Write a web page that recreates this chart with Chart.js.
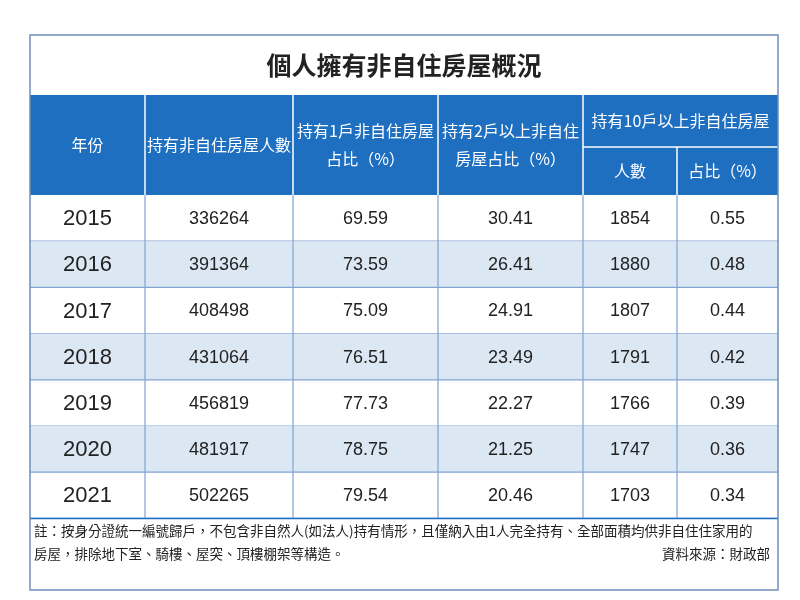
<!DOCTYPE html>
<html>
<head>
<meta charset="utf-8">
<title>個人擁有非自住房屋概況</title>
<script src="https://cdn.jsdelivr.net/npm/chart.js"></script>
<style>
  body { margin: 0; background: #fff; }
  #chart { display: block; }
</style>
</head>
<body>
<canvas id="chart" width="800" height="600"></canvas>
<script>
// data
const title = '個人擁有非自住房屋概況';
const years = ['2015', '2016', '2017', '2018', '2019', '2020', '2021'];
const owners = ['336264', '391364', '408498', '431064', '456819', '481917', '502265'];
const oneShare = ['69.59', '73.59', '75.09', '76.51', '77.73', '78.75', '79.54'];
const twoPlusShare = ['30.41', '26.41', '24.91', '23.49', '22.27', '21.25', '20.46'];
const tenPlusCount = ['1854', '1880', '1807', '1791', '1766', '1747', '1703'];
const tenPlusShare = ['0.55', '0.48', '0.44', '0.42', '0.39', '0.36', '0.34'];
const headers = ['年份', '持有非自住房屋人數', '持有1戶非自住房屋\n占比（%）', '持有2戶以上非自住\n房屋占比（%）'];
const groupHeader = '持有10戶以上非自住房屋';
const subHeaders = ['人數', '占比（%）'];
const note1 = '註：按身分證統一編號歸戶，不包含非自然人(如法人)持有情形，且僅納入由1人完全持有、全部面積均供非自住住家用的';
const note2 = '房屋，排除地下室、騎樓、屋突、頂樓棚架等構造。';
const source = '資料來源：財政部';

// layout (in scale units = px)
const colEdges = [30, 145, 293, 438, 583, 677, 778];
const frameTop = 35, headTop = 95, subTop = 147, bodyTop = 195, rowH = 46.2, frameBottom = 590;

const BLUE = '#1f6fc1', LIGHT = '#dce7f4', LINE = '#7fa3cf';
const CJK = '"Noto Sans CJK TC", sans-serif';
const NUM = '"Liberation Sans Narrow", "Liberation Sans", sans-serif';

const tablePlugin = {
  id: 'table',
  afterDraw(chart) {
    const c = chart.ctx, xs = chart.scales.x, ys = chart.scales.y;
    const X = v => xs.getPixelForValue(v), Y = v => ys.getPixelForValue(v);
    const rect = (x0, y0, x1, y1, fill) => { c.fillStyle = fill; c.fillRect(X(x0), Y(y0), X(x1) - X(x0), Y(y1) - Y(y0)); };
    const line = (x0, y0, x1, y1, col, w) => { c.strokeStyle = col; c.lineWidth = w || 1; c.beginPath(); c.moveTo(X(x0), Y(y0)); c.lineTo(X(x1), Y(y1)); c.stroke(); };
    const text = (s, x, y, font, col, align) => { c.font = font; c.fillStyle = col; c.textAlign = align || 'center'; c.textBaseline = 'middle'; c.fillText(s, X(x), Y(y)); };
    const L = colEdges[0], R = colEdges[colEdges.length - 1];

    c.save();
    text(title, (L + R) / 2, 65, 'bold 25px ' + CJK, '#222');
    // header
    rect(L, headTop, R, bodyTop, BLUE);
    for (let i = 1; i < colEdges.length - 1; i++) {
      const yStart = i === 5 ? subTop : headTop;
      line(colEdges[i], yStart, colEdges[i], bodyTop, '#ffffff', 1.5);
    }
    line(colEdges[4], subTop, R, subTop, '#ffffff', 1.5);
    headers.forEach((h, i) => {
      const cx = (colEdges[i] + colEdges[i + 1]) / 2;
      const parts = h.split('\n');
      parts.forEach((p, k) => text(p, cx, 145 + (k - (parts.length - 1) / 2) * 28, '16px ' + CJK, '#fff'));
    });
    text(groupHeader, (colEdges[4] + R) / 2, 121, '16px ' + CJK, '#fff');
    subHeaders.forEach((h, i) => text(h, (colEdges[4 + i] + colEdges[5 + i]) / 2, 171, '16px ' + CJK, '#fff'));

    // body rows
    const cols = [years, owners, oneShare, twoPlusShare, tenPlusCount, tenPlusShare];
    years.forEach((_, r) => {
      const y0 = bodyTop + r * rowH, y1 = y0 + rowH;
      if (r % 2 === 1) rect(L, y0, R, y1, LIGHT);
      line(L, y1, R, y1, LINE, 1.2);
      cols.forEach((col, k) => {
        const cx = (colEdges[k] + colEdges[k + 1]) / 2;
        text(col[r], cx, (y0 + y1) / 2 + 1, (k === 0 ? '22px ' : '18px ') + NUM, '#222');
      });
    });
    const bodyBot = bodyTop + years.length * rowH;
    for (let i = 1; i < colEdges.length - 1; i++) line(colEdges[i], bodyTop, colEdges[i], bodyBot, LINE, 1.2);
    line(L, bodyBot, R, bodyBot, BLUE, 1.5);

    // notes
    text(note1, L + 4, 531, '13.5px ' + CJK, '#222', 'left');
    text(note2, L + 4, 554, '13.5px ' + CJK, '#222', 'left');
    text(source, R - 8, 554, '13.5px ' + CJK, '#222', 'right');

    c.strokeStyle = '#6f8fb8'; c.lineWidth = 1.5;
    c.strokeRect(X(L), Y(frameTop), X(R) - X(L), Y(frameBottom) - Y(frameTop));
    c.restore();
  }
};

new Chart(document.getElementById('chart'), {
  type: 'scatter',
  data: { datasets: [{ data: [], pointRadius: 0 }] },
  options: {
    responsive: false,
    animation: false,
    layout: { padding: 0 },
    plugins: { legend: { display: false }, tooltip: { enabled: false } },
    scales: {
      x: { type: 'linear', min: 0, max: 800, display: false },
      y: { type: 'linear', min: 0, max: 600, reverse: true, display: false }
    }
  },
  plugins: [tablePlugin]
});
</script>
</body>
</html>
